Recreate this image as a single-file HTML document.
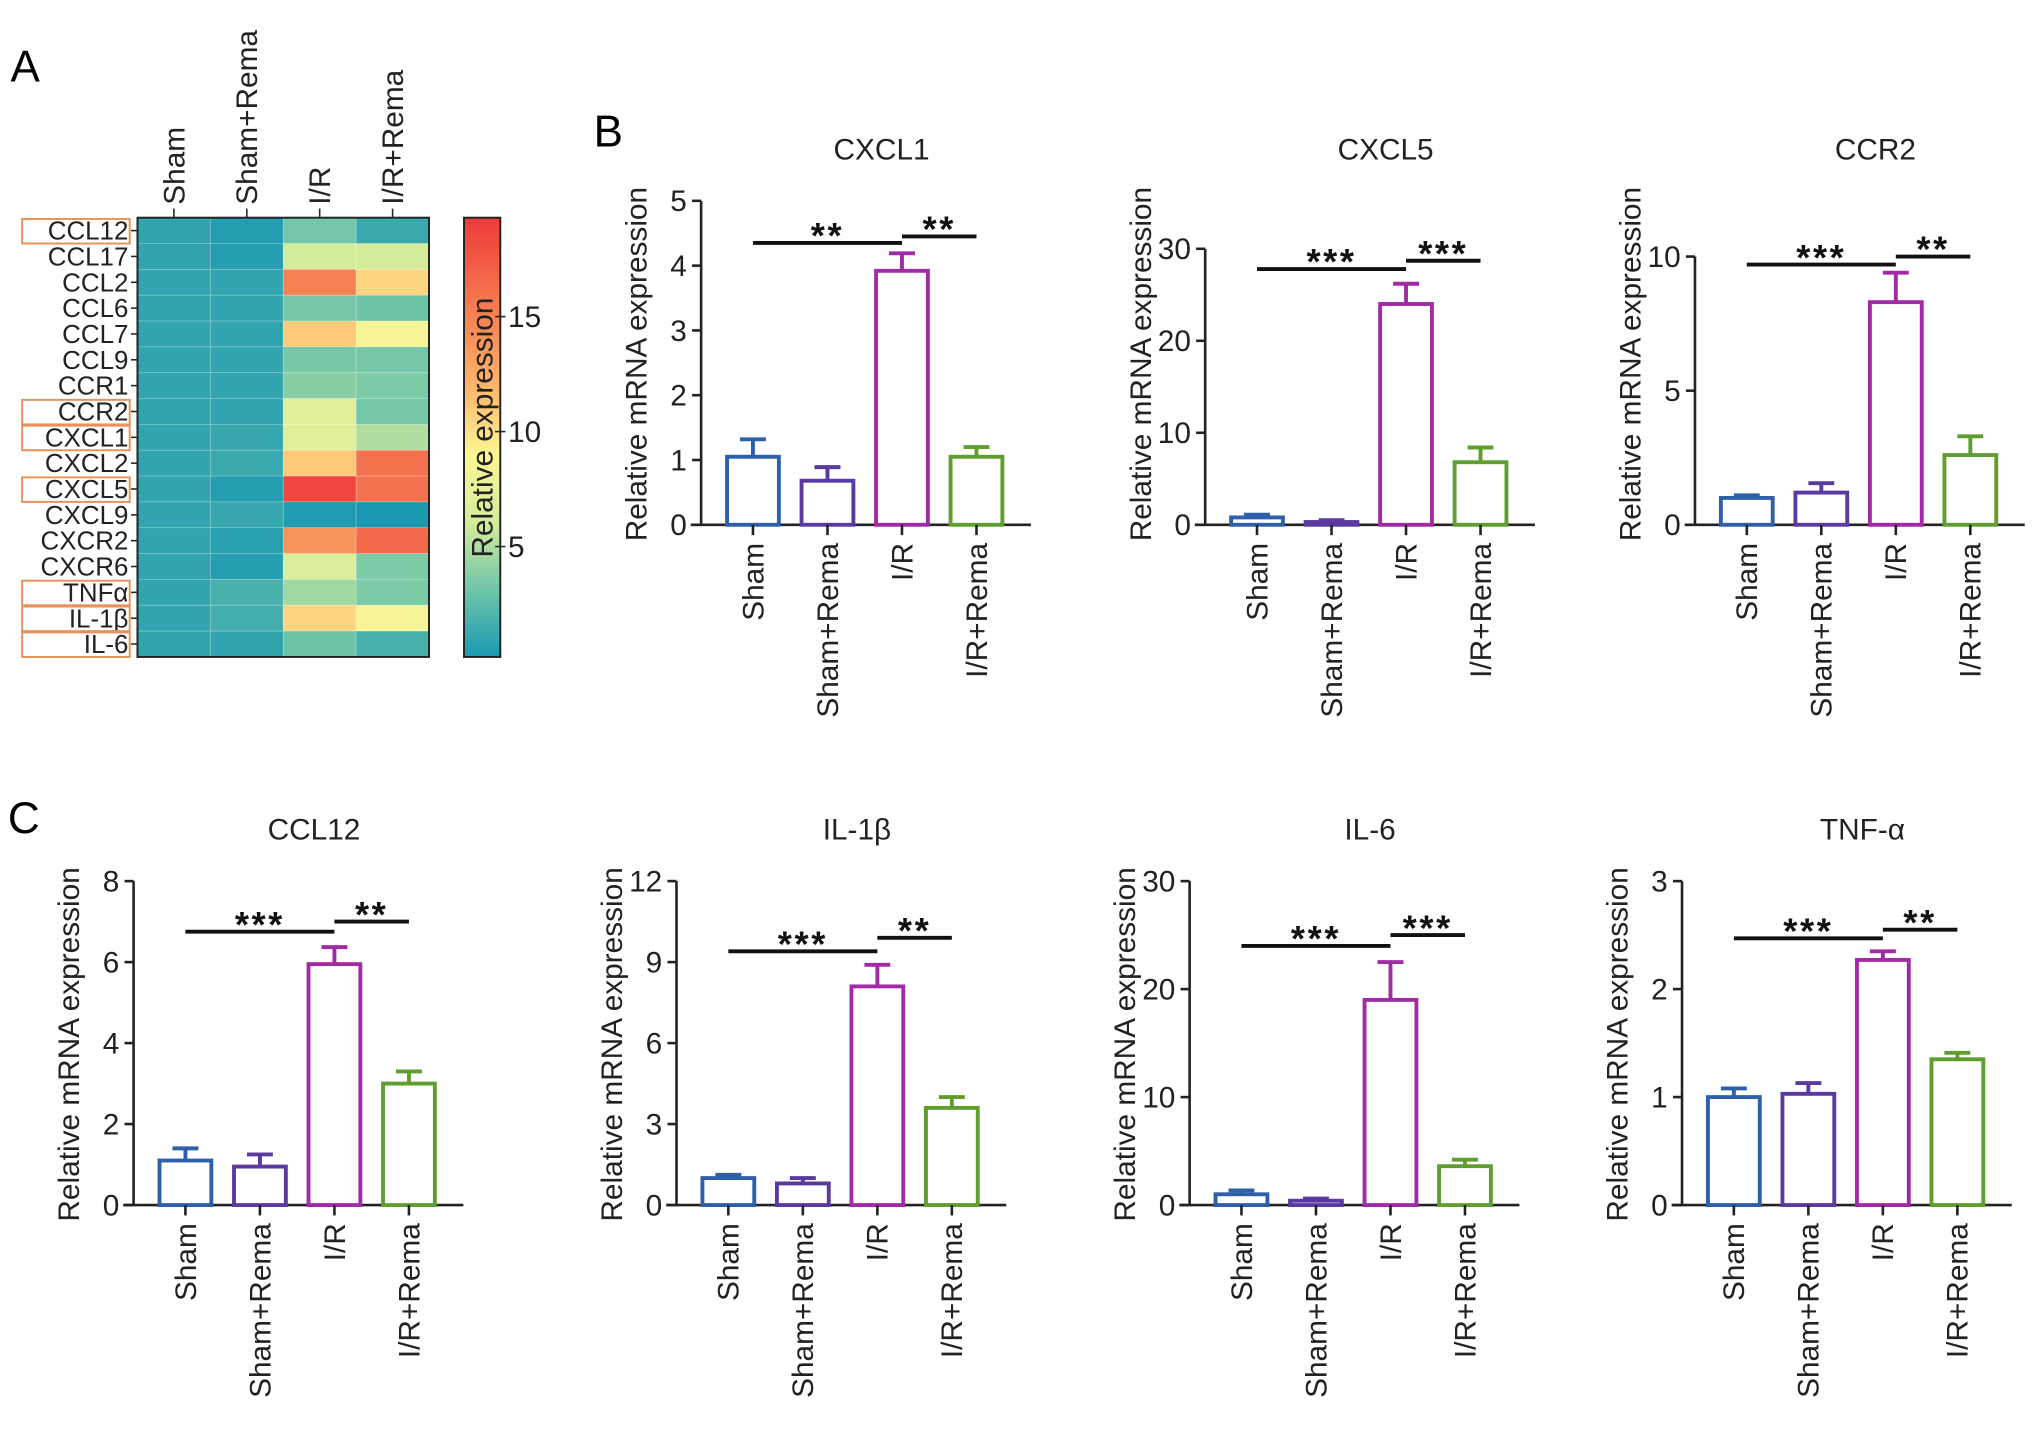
<!DOCTYPE html>
<html><head><meta charset="utf-8">
<style>
html,body{margin:0;padding:0;background:#fff;}
svg{display:block;font-family:"Liberation Sans",Arial,sans-serif;}
</style></head>
<body>
<svg id="fig" width="2032" height="1437" viewBox="0 0 1568 1109" xmlns="http://www.w3.org/2000/svg">
<rect x="0" y="0" width="1568" height="1109" fill="#fff"/>
<text x="8" y="63" font-size="34">A</text>
<text x="458" y="113" font-size="34">B</text>
<text x="6" y="643" font-size="34">C</text>
<g id="heat"></g>
<g id="bars"></g>
</svg>
<script>
const NS="http://www.w3.org/2000/svg";
function mk(parent,tag,attrs,text){const e=document.createElementNS(NS,tag);for(const k in attrs)e.setAttribute(k,attrs[k]);if(text!==undefined)e.textContent=text;parent.appendChild(e);return e;}

// ---- Heatmap data ----
const heatGenes=["CCL12","CCL17","CCL2","CCL6","CCL7","CCL9","CCR1","CCR2","CXCL1","CXCL2","CXCL5","CXCL9","CXCR2","CXCR6","TNFα","IL-1β","IL-6"];
const heatGroups=["Sham","Sham+Rema","I/R","I/R+Rema"];
const heatSham=[1,1,1,1,1,1,1,1,1,1,1,1,1,1,1,1,1];
const heatShamRema=[0.6,0.6,1,1,1,1,1,1,1.2,1.3,0.6,1.2,0.7,0.6,1.8,1.6,1];
const heatIR=[3.2,6,15,3.3,11,3.3,3.8,7,7,11,18.5,0.4,14,6.5,4.5,10.5,3];
const heatIRRema=[1.3,6,10.5,3,8.5,3.3,3.5,3.3,5,16,16,0.2,16.5,3.5,3.5,8.5,1.8];
const heatHighlighted=["CCL12","CCR2","CXCL1","CXCL5","TNFα","IL-1β","IL-6"];
const cbarTicks=[5,10,15];

const hx0=106,hx1=331,hy0=168,hy1=507;
const vmin=0.2,vmax=19.3;
const stops=[[0.2,[26,152,178]],[3,[108,195,168]],[6,[211,236,156]],[9,[253,246,148]],[12,[253,180,107]],[15.5,[245,122,80]],[19.3,[238,58,58]]];
function cmap(v){v=Math.max(stops[0][0],Math.min(stops[stops.length-1][0],v));for(let i=0;i<stops.length-1;i++){const a=stops[i],b=stops[i+1];if(v<=b[0]){const t=(v-a[0])/(b[0]-a[0]);const c=a[1].map((x,j)=>Math.round(x+(b[1][j]-x)*t));return `rgb(${c})`;}}}
function cbY(v){return hy1-(v-vmin)/(vmax-vmin)*(hy1-hy0);}

const heat=document.getElementById('heat');
const cols=[heatSham,heatShamRema,heatIR,heatIRRema];
const cw=(hx1-hx0)/4,rh=(hy1-hy0)/heatGenes.length;
cols.forEach((col,ci)=>{col.forEach((v,ri)=>{
  const r=mk(heat,'rect',{x:hx0+ci*cw,y:hy0+ri*rh,width:cw,height:rh,fill:cmap(v),stroke:'rgba(255,255,255,0.25)','stroke-width':0.6});
  
  
});});
mk(heat,'rect',{x:hx0,y:hy0,width:hx1-hx0,height:hy1-hy0,fill:'none',stroke:'#222','stroke-width':1.5});
heatGenes.forEach((g,ri)=>{
  const yc=hy0+(ri+0.5)*rh;
  mk(heat,'line',{x1:hx0-5,x2:hx0,y1:yc,y2:yc,stroke:'#222','stroke-width':1.2});
  const t=mk(heat,'text',{x:hx0-7,y:yc+7,'font-size':20,'text-anchor':'end',fill:'#222'},g);
  
  
  if(heatHighlighted.includes(g)){
    const b=mk(heat,'rect',{x:17,y:yc-rh/2+1,width:83,height:rh-1,fill:'none',stroke:'#e8925a','stroke-width':1.5});
    
    
  }
});
heatGroups.forEach((g,ci)=>{
  const xc=hx0+(ci+0.5)*cw;
  mk(heat,'line',{x1:xc,x2:xc,y1:hy0-7,y2:hy0,stroke:'#222','stroke-width':1.2});
  const t=mk(heat,'text',{x:0,y:0,'font-size':23,transform:`translate(${xc+8},${hy0-10}) rotate(-90)`,fill:'#222'},g);
  
  
});
// colorbar
const cbx=358,cbw=28;
const defs=mk(heat,'defs',{});
const lg=mk(defs,'linearGradient',{id:'cbg',x1:0,y1:1,x2:0,y2:0});
stops.forEach(s=>mk(lg,'stop',{offset:(s[0]-vmin)/(vmax-vmin),'stop-color':`rgb(${s[1]})`}));
const cb=mk(heat,'rect',{x:cbx,y:hy0,width:cbw,height:hy1-hy0,fill:'url(#cbg)',stroke:'#222','stroke-width':1.5});


cbarTicks.forEach(v=>{
  const y=cbY(v);
  mk(heat,'line',{x1:cbx+cbw-4,x2:cbx+cbw+4,y1:y,y2:y,stroke:'#222','stroke-width':1.2});
  const t=mk(heat,'text',{x:cbx+cbw+6,y:y+8,'font-size':23,fill:'#222'},String(v));
  
  
});
const cbt=mk(heat,'text',{x:0,y:0,'font-size':23,'text-anchor':'middle',transform:`translate(${cbx+cbw/2+8},${330}) rotate(-90)`,fill:'#222'},'Relative expression');



// ---- Bar chart data ----
const barCats=["Sham","Sham+Rema","I/R","I/R+Rema"];
const barColors=["#2e5fa8","#5a3aa0","#a12ba6","#5f9e2f"];
const cxcl1Vals=[1.05,0.68,3.92,1.05], cxcl1Err=[0.27,0.21,0.27,0.15], cxcl1Ticks=[0,1,2,3,4,5], cxcl1Sig=[4.35,4.45];
const cxcl5Vals=[0.8,0.3,24,6.8], cxcl5Err=[0.3,0.2,2.2,1.6], cxcl5Ticks=[0,10,20,30], cxcl5Sig=[27.8,28.7];
const ccr2Vals=[1.0,1.2,8.3,2.6], ccr2Err=[0.1,0.35,1.1,0.7], ccr2Ticks=[0,5,10], ccr2Sig=[9.7,10.0];
const ccl12Vals=[1.1,0.95,5.95,3.0], ccl12Err=[0.3,0.3,0.42,0.3], ccl12Ticks=[0,2,4,6,8], ccl12Sig=[6.75,7.0];
const il1bVals=[1.0,0.8,8.1,3.6], il1bErr=[0.12,0.2,0.8,0.4], il1bTicks=[0,3,6,9,12], il1bSig=[9.4,9.9];
const il6Vals=[1.0,0.4,19,3.6], il6Err=[0.35,0.2,3.5,0.6], il6Ticks=[0,10,20,30], il6Sig=[24,25];
const tnfVals=[1.0,1.03,2.27,1.35], tnfErr=[0.08,0.1,0.08,0.06], tnfTicks=[0,1,2,3], tnfSig=[2.47,2.55];
const sigLabels=[["**","**"],["***","***"],["***","**"],["***","**"],["***","**"],["***","***"],["***","**"]];

const charts=[
 {name:'cxcl1',title:'CXCL1',ty:123,ax:541,y0:405,y1:155,vals:cxcl1Vals,err:cxcl1Err,ticks:cxcl1Ticks,sig:cxcl1Sig,s:sigLabels[0]},
 {name:'cxcl5',title:'CXCL5',ty:123,ax:930,y0:405,y1:192,vals:cxcl5Vals,err:cxcl5Err,ticks:cxcl5Ticks,sig:cxcl5Sig,s:sigLabels[1]},
 {name:'ccr2',title:'CCR2',ty:123,ax:1308,y0:405,y1:198,vals:ccr2Vals,err:ccr2Err,ticks:ccr2Ticks,sig:ccr2Sig,s:sigLabels[2]},
 {name:'ccl12',title:'CCL12',ty:648,ax:103,y0:930,y1:680,vals:ccl12Vals,err:ccl12Err,ticks:ccl12Ticks,sig:ccl12Sig,s:sigLabels[3]},
 {name:'il1b',title:'IL-1β',ty:648,ax:522,y0:930,y1:680,vals:il1bVals,err:il1bErr,ticks:il1bTicks,sig:il1bSig,s:sigLabels[4]},
 {name:'il6',title:'IL-6',ty:648,ax:918,y0:930,y1:680,vals:il6Vals,err:il6Err,ticks:il6Ticks,sig:il6Sig,s:sigLabels[5]},
 {name:'tnf',title:'TNF-α',ty:648,ax:1298,y0:930,y1:680,vals:tnfVals,err:tnfErr,ticks:tnfTicks,sig:tnfSig,s:sigLabels[6]}
];
const barsG=document.getElementById('bars');
charts.forEach(c=>{
  const g=mk(barsG,'g',{});
  
  
  const tmax=c.ticks[c.ticks.length-1];
  const yS=v=>c.y0-(v/tmax)*(c.y0-c.y1);
  const step=57.5, first=c.ax+40, bw=40;
  const xS=i=>first+i*step;
  const xEnd=xS(3)+bw/2+22;
  const tt=mk(g,'text',{x:(c.ax+xEnd)/2+12,y:c.ty,'font-size':23,'text-anchor':'middle',fill:'#222'},c.title);
  
  
  const yl=mk(g,'text',{x:0,y:0,'font-size':23,'text-anchor':'middle',fill:'#222',transform:`translate(${c.ax-42},${c.y0-124}) rotate(-90)`},'Relative mRNA expression');
  
  
  mk(g,'line',{x1:c.ax,x2:c.ax,y1:c.y1,y2:c.y0,stroke:'#222','stroke-width':2});
  mk(g,'line',{x1:c.ax-8,x2:xEnd,y1:c.y0,y2:c.y0,stroke:'#222','stroke-width':2});
  c.ticks.forEach(v=>{
    const y=yS(v);
    mk(g,'line',{x1:c.ax-7,x2:c.ax,y1:y,y2:y,stroke:'#222','stroke-width':2});
    const t=mk(g,'text',{x:c.ax-11,y:y+8,'font-size':23,'text-anchor':'end',fill:'#222'},String(v));
    
    
  });
  c.vals.forEach((v,i)=>{
    const x=xS(i),col=barColors[i];
    const top=yS(v), et=yS(v+c.err[i]);
    const b=mk(g,'rect',{x:x-bw/2,y:top,width:bw,height:c.y0-top,fill:'#fff',stroke:col,'stroke-width':3});
    
    
    mk(g,'line',{x1:x,x2:x,y1:top,y2:et,stroke:col,'stroke-width':3});
    mk(g,'line',{x1:x-bw/4,x2:x+bw/4,y1:et,y2:et,stroke:col,'stroke-width':3});
    mk(g,'line',{x1:x,x2:x,y1:c.y0,y2:c.y0+8,stroke:'#222','stroke-width':2});
    const t=mk(g,'text',{x:0,y:0,'font-size':23,'text-anchor':'end',fill:'#222',transform:`translate(${x+8},${c.y0+14}) rotate(-90)`},barCats[i]);
    
    
  });
  const s1=yS(c.sig[0]), s2=yS(c.sig[1]);
  mk(g,'line',{x1:xS(0),x2:xS(2),y1:s1,y2:s1,stroke:'#111','stroke-width':3});
  mk(g,'line',{x1:xS(2),x2:xS(3),y1:s2,y2:s2,stroke:'#111','stroke-width':3});
  const a1=mk(g,'text',{x:(xS(0)+xS(2))/2,y:s1+4,'font-size':28,'font-weight':'bold','text-anchor':'middle','letter-spacing':2,fill:'#111'},c.s[0]);
  
  
  const a2=mk(g,'text',{x:(xS(2)+xS(3))/2,y:s2+4,'font-size':28,'font-weight':'bold','text-anchor':'middle','letter-spacing':2,fill:'#111'},c.s[1]);
  
  
});
</script>
</body></html>
